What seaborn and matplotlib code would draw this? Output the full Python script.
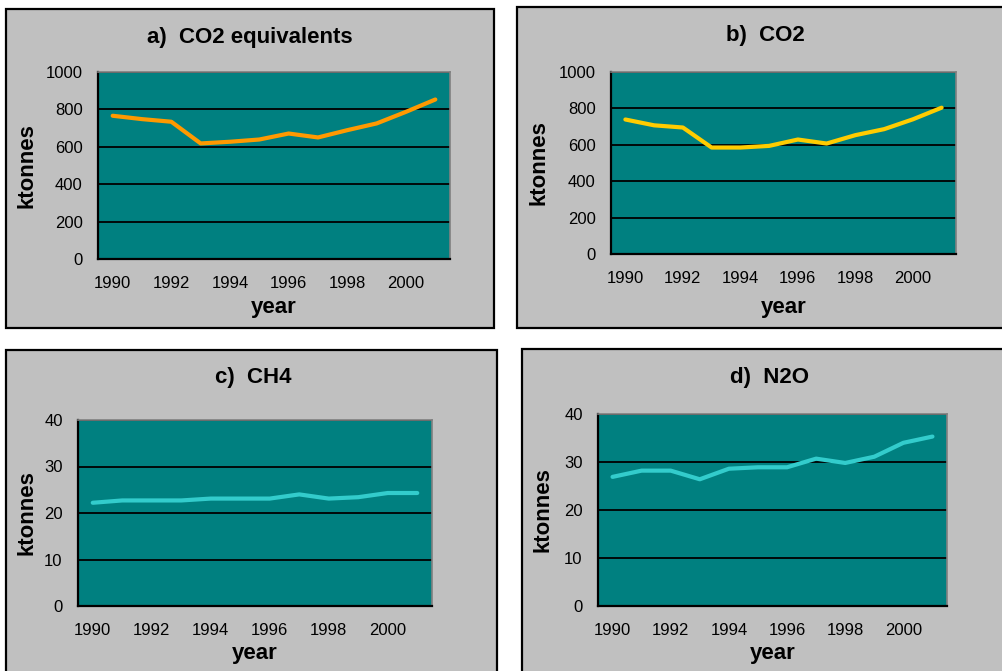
import numpy as np
import pandas as pd
import seaborn as sns
import matplotlib.pyplot as plt
from matplotlib.patches import Rectangle

# dados (ktonnes por ano)
anos = list(range(1990, 2002))
co2_eq = [766, 748, 734, 618, 627, 639, 671, 650, 689, 725, 787, 853]
co2 = [739, 707, 695, 585, 585, 594, 629, 607, 653, 686, 740, 804]
ch4 = [22.2, 22.7, 22.7, 22.7, 23.1, 23.1, 23.1, 24.0, 23.1, 23.4, 24.3, 24.3]
n2o = [26.9, 28.2, 28.2, 26.4, 28.6, 28.9, 28.9, 30.7, 29.8, 31.1, 34.0, 35.3]
anos_rotulo = [1990, 1992, 1994, 1996, 1998, 2000]

sns.set_style("white")
plt.rcParams["font.family"] = ["Liberation Sans", "DejaVu Sans"]
plt.rcParams["text.color"] = "black"
plt.rcParams["axes.labelcolor"] = "black"
plt.rcParams["xtick.color"] = "black"
plt.rcParams["ytick.color"] = "black"

W, H = 1003, 671
fig = plt.figure(figsize=(W / 100, H / 100), dpi=100)


def caixa(x0, y0, x1, y1):
    # retângulo cinza com borda preta (coordenadas em pixels)
    r = Rectangle((x0 / W, 1 - y1 / H), (x1 - x0) / W, (y1 - y0) / H,
                  transform=fig.transFigure, facecolor="#C0C0C0",
                  edgecolor="black", lw=1.6, zorder=-1)
    fig.add_artist(r)


def painel(titulo, valores, cor, ymax, box, area, titulo_xy, ylab_x, xlab_y):
    caixa(*box)
    x0, y0, x1, y1 = area
    ax = fig.add_axes([x0 / W, 1 - y1 / H, (x1 - x0) / W, (y1 - y0) / H])
    ax.set_facecolor("#008080")

    df = pd.DataFrame({"ano": anos, "valor": valores})
    sns.lineplot(data=df, x="ano", y="valor", ax=ax, color=cor, linewidth=3)

    ax.set_xlim(1989.5, 2001.5)
    ax.set_ylim(0, ymax)
    ax.set_yticks(np.linspace(0, ymax, 6 if ymax == 1000 else 5))
    ax.set_xticks(np.arange(1989.5, 2002, 1))
    ax.set_xticklabels([])
    ax.set_xticks(anos_rotulo, minor=True)
    ax.set_xticklabels([str(a) for a in anos_rotulo], minor=True)

    ax.yaxis.grid(True, color="black", lw=1.3)
    ax.xaxis.grid(False)
    ax.tick_params(axis="both", which="major", direction="out", length=5,
                   width=1.4, color="black", labelsize=12, pad=6)
    ax.tick_params(axis="x", which="minor", length=0, labelsize=12, pad=12)

    for lado in ["left", "bottom"]:
        ax.spines[lado].set_color("black")
        ax.spines[lado].set_linewidth(1.6)
    for lado in ["top", "right"]:
        ax.spines[lado].set_color("#808080")
        ax.spines[lado].set_linewidth(1.2)

    ax.set_xlabel("year", fontsize=16, fontweight="bold")
    ax.set_ylabel("ktonnes", fontsize=16, fontweight="bold")
    ax.xaxis.label.set_va("center")
    ax.yaxis.label.set_va("center")
    ax.xaxis.set_label_coords(0.5, (y1 - xlab_y) / (y1 - y0))
    ax.yaxis.set_label_coords((ylab_x - x0) / (x1 - x0), 0.5)

    fig.text(titulo_xy[0] / W, 1 - titulo_xy[1] / H, titulo, fontsize=16,
             fontweight="bold", ha="center", va="center")
    return ax


painel("a)  CO2 equivalents", co2_eq, "#FF9900", 1000,
       (6, 9, 494, 328), (98, 72, 450, 259), (250, 37), 27, 307)
painel("b)  CO2", co2, "#FFCC00", 1000,
       (517, 7, 1013, 328), (611, 72, 956, 254), (765, 35), 539, 307)
painel("c)  CH4", ch4, "#33CCCC", 40,
       (6, 350, 497, 690), (78, 420, 432, 606), (253, 378), 27, 653)
painel("d)  N2O", n2o, "#33CCCC", 40,
       (522, 349, 1018, 690), (598, 414, 947, 606), (770, 377), 543, 653)

plt.savefig("out.png", dpi=100)
